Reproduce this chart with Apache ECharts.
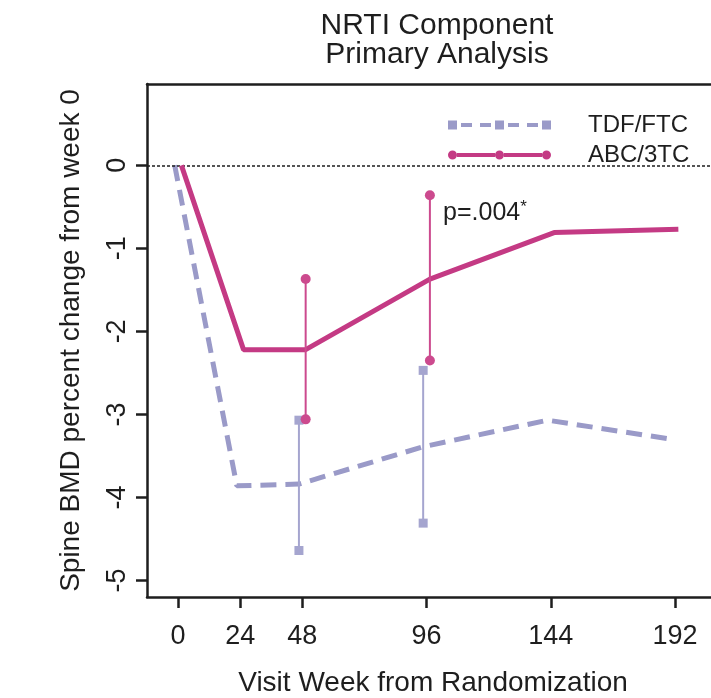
<!DOCTYPE html>
<html>
<head>
<meta charset="utf-8">
<script src="https://cdn.jsdelivr.net/npm/echarts@6/dist/echarts.min.js"></script>
<style>
html,body{margin:0;padding:0;background:#fff;}
#chart{width:711px;height:698px;}
</style>
</head>
<body>
<div id="chart"></div>
<script>
// ---- data ----
const weeks = [0, 24, 48, 96, 144, 192];
const tdfMean = [0, -3.86, -3.84, -3.39, -3.07, -3.30];
const abcMean = [0, -2.22, -2.22, -1.37, -0.81, -0.77];
const errWeeks = [48, 96];
const tdfLow = [-4.64, -4.31];
const tdfHigh = [-3.07, -2.47];
const abcLow = [-3.06, -2.35];
const abcHigh = [-1.37, -0.36];
const xTicks = [0, 24, 48, 96, 144, 192];
const yTicks = [-5, -4, -3, -2, -1, 0];
const seriesNames = ['TDF/FTC', 'ABC/3TC'];
const pText = 'p=.004';
const pAt = [102.4, -0.58];

// ---- style ----
const FONT = '"Liberation Sans", Arial, Helvetica, sans-serif';
const INK = '#1e1e1e';
const TDF_COLOR = '#9a9ac8';
const ABC_COLOR = '#c43a84';
const TDF_BAR = '#a5a5cf';
const ABC_BAR = '#cc4a8e';
const dodge = 1.3;
const X_MIN = -12, X_MAX = 209, Y_MIN = -5.2, Y_MAX = 0.98;

const pair = (xs, ys, d) => xs.map((x, i) => [x + d, ys[i]]);

const series = [];

// TDF main
series.push({
  name: seriesNames[0], type: 'line', data: pair(weeks, tdfMean, -dodge),
  symbol: 'rect', symbolSize: 9, showSymbol: false, z: 3,
  lineStyle: { color: TDF_COLOR, width: 5, type: [16, 9] },
  itemStyle: { color: TDF_COLOR },
  markLine: {
    silent: true, symbol: 'none', animation: false,
    label: { show: false },
    lineStyle: { color: INK, width: 1.5, type: [3, 2] },
    data: [{ yAxis: 0 }]
  }
});
// TDF error bars
errWeeks.forEach((w, i) => {
  series.push({
    type: 'line', name: 'tdfErr' + i,
    data: [[w - dodge, tdfLow[i]], [w - dodge, tdfHigh[i]]],
    symbol: 'rect', symbolSize: 9, showSymbol: true, z: 4,
    lineStyle: { color: TDF_BAR, width: 2 },
    itemStyle: { color: TDF_BAR }
  });
});
// ABC main
series.push({
  name: seriesNames[1], type: 'line', data: pair(weeks, abcMean, dodge),
  symbol: 'circle', symbolSize: 9, showSymbol: false, z: 5,
  lineStyle: { color: ABC_COLOR, width: 5 },
  itemStyle: { color: ABC_COLOR },
  markPoint: {
    silent: true, animation: false,
    data: [{
      coord: pAt, symbolSize: 0,
      label: {
        show: true, position: 'right', distance: 0,
        formatter: pText + '{a|*}',
        color: INK, fontFamily: FONT, fontSize: 25, lineHeight: 30,
        rich: { a: { fontSize: 17, fontFamily: FONT, color: INK, verticalAlign: 'top', lineHeight: 30, padding: [0, 0, 12, 0] } }
      }
    }]
  }
});
// ABC error bars
errWeeks.forEach((w, i) => {
  series.push({
    type: 'line', name: 'abcErr' + i,
    data: [[w + dodge, abcLow[i]], [w + dodge, abcHigh[i]]],
    symbol: 'circle', symbolSize: 10, showSymbol: true, z: 6,
    lineStyle: { color: ABC_BAR, width: 2 },
    itemStyle: { color: ABC_BAR }
  });
});

// legend icons (bbox 103 x 9)
const circ = (cx, cy, r) => `M${cx - r} ${cy} A${r} ${r} 0 1 0 ${cx + r} ${cy} A${r} ${r} 0 1 0 ${cx - r} ${cy} Z`;
const rect = (x0, y0, x1, y1) => `M${x0} ${y0} L${x1} ${y0} L${x1} ${y1} L${x0} ${y1} Z`;
const abcIcon = 'path://' + [circ(4.5, 4.5, 4.5), circ(51.5, 4.5, 4.5), circ(98.5, 4.5, 4.5),
  rect(9, 2.5, 47, 6.5), rect(56, 2.5, 94, 6.5)].join(' ');
const tdfIcon = 'path://' + [rect(0, 0, 9, 9), rect(47, 0, 56, 9), rect(94, 0, 103, 9),
  rect(13, 2.5, 24, 6.5), rect(32, 2.5, 43, 6.5), rect(60, 2.5, 71, 6.5), rect(79, 2.5, 90, 6.5)].join(' ');

const axisLineStyle = { color: INK, width: 2.5 };

const option = {
  animation: false,
  backgroundColor: '#fff',
  title: {
    text: 'NRTI Component\nPrimary Analysis',
    left: 432, top: 6, textAlign: 'center',
    textStyle: { fontFamily: FONT, fontSize: 30, fontWeight: 'normal', color: INK, lineHeight: 29 }
  },
  legend: {
    orient: 'vertical', left: 443, top: 108,
    itemWidth: 103, itemHeight: 9, itemGap: 6,
    symbolKeepAspect: false,
    selectedMode: false,
    data: [{ name: seriesNames[0], icon: tdfIcon }, { name: seriesNames[1], icon: abcIcon }],
    textStyle: { fontFamily: FONT, fontSize: 24, color: INK, lineHeight: 24, padding: [0, 0, 0, 32] }
  },
  grid: {
    left: 147, top: 84, width: 572, height: 513,
    show: false,
    containLabel: false,
    outerBoundsMode: 'none'
  },
  xAxis: [{
    type: 'value', min: X_MIN, max: X_MAX, position: 'bottom',
    name: 'Visit Week from Randomization', nameLocation: 'middle', nameGap: 72,
    nameTextStyle: { fontFamily: FONT, fontSize: 28, color: INK },
    axisLine: { show: true, onZero: false, lineStyle: axisLineStyle },
    splitLine: { show: false },
    axisTick: { show: true, inside: false, customValues: xTicks, length: 11, lineStyle: { color: INK, width: 2.5 } },
    axisLabel: { customValues: xTicks, margin: 26, fontFamily: FONT, fontSize: 27, color: INK }
  }, {
    type: 'value', min: X_MIN, max: X_MAX, position: 'top',
    axisLine: { show: true, onZero: false, lineStyle: axisLineStyle },
    axisTick: { show: false }, axisLabel: { show: false }, splitLine: { show: false }
  }],
  yAxis: {
    type: 'value', min: Y_MIN, max: Y_MAX, position: 'left',
    name: 'Spine BMD percent change from week 0', nameLocation: 'middle', nameRotate: 90, nameGap: 62,
    nameTextStyle: { fontFamily: FONT, fontSize: 28, color: INK },
    axisLine: { show: true, onZero: false, lineStyle: axisLineStyle },
    splitLine: { show: false },
    axisTick: { show: true, inside: false, customValues: yTicks, length: 11, lineStyle: { color: INK, width: 2.5 } },
    axisLabel: { customValues: yTicks, rotate: 90, margin: 16, fontFamily: FONT, fontSize: 27, color: INK }
  },
  series: series
};

const chart = echarts.init(document.getElementById('chart'), null, { renderer: 'canvas' });
chart.setOption(option);
</script>
</body>
</html>
